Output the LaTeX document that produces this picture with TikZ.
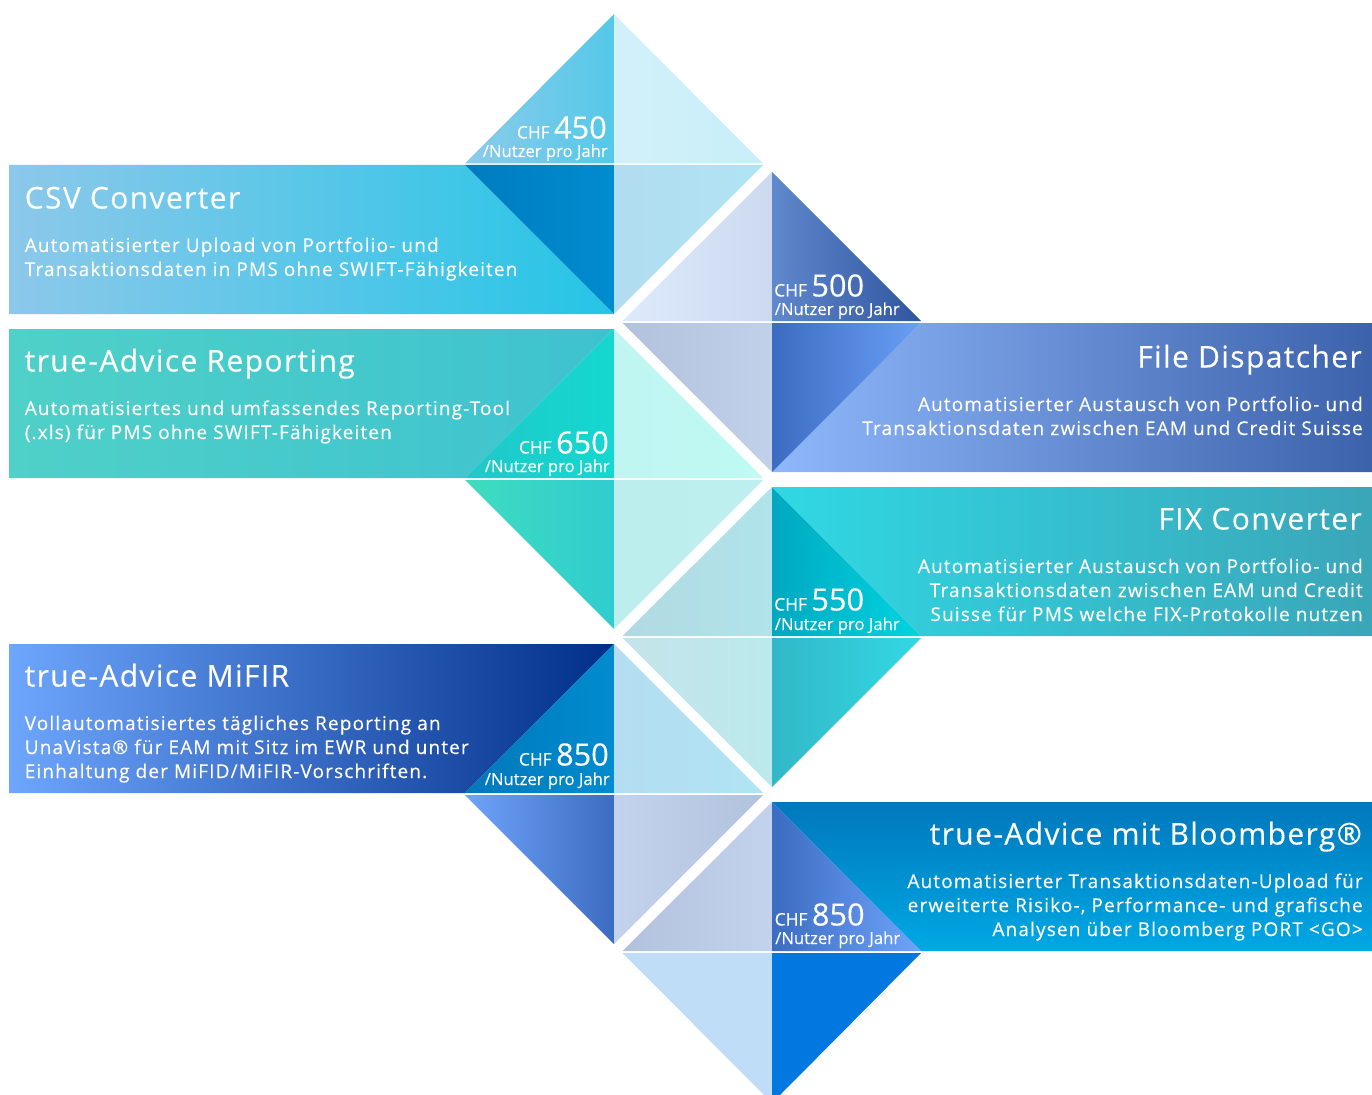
\documentclass[tikz,border=0pt]{standalone}
\usepackage{fontspec}
\setmainfont{Open Sans}
\newfontfamily\ttlfont[LetterSpace=4.6,FakeBold=0.3]{Open Sans}
\newfontfamily\bodyfont[LetterSpace=6.0,FakeBold=0.3]{Open Sans}
\newfontfamily\pricefont[FakeBold=0.3]{Open Sans}
\newcommand\gp[3]{\definecolor{gpa}{HTML}{#1}\definecolor{gpb}{HTML}{#2}\shade[left color=gpa,right color=gpb] #3 -- cycle;}
\tikzset{
  ttl/.style={text=white,inner sep=0pt,font=\ttlfont\fontsize{22.5}{27}\selectfont},
  bodyl/.style={text=white,inner sep=0pt,align=left,font=\bodyfont\fontsize{14.25}{18}\selectfont},
  bodyr/.style={text=white,inner sep=0pt,align=right,font=\bodyfont\fontsize{14.25}{18}\selectfont},
  pricel/.style={text=white,inner sep=0pt,font=\pricefont\fontsize{13}{15}\selectfont},
  unitl/.style={text=white,inner sep=0pt,font=\pricefont\fontsize{12.5}{14}\selectfont}
}
\newcommand\chf[1]{CHF {\fontsize{23}{28}\selectfont #1}}
\begin{document}
\begin{tikzpicture}[x=0.75pt,y=-0.75pt]
\useasboundingbox (0,0) rectangle (1372,1095);
% diamond 1
\gp{8ccbeb}{55c8e8}{(465,163.5) -- (614,14) -- (614,163.5)}
\gp{d2f0fa}{c8eff8}{(614,14) -- (763,163.5) -- (614,163.5)}
\gp{8cc8ea}{25c5e6}{(9,165) -- (465,165) -- (614,314) -- (9,314)}
\gp{007cc0}{008ccf}{(465,165) -- (614,165) -- (614,314)}
\gp{b2dcf1}{b0e4f3}{(614,165) -- (763,165) -- (614,314)}
% diamond 2
\gp{deeafc}{ccd9ef}{(622.5,321) -- (772,172) -- (772,321)}
\gp{6088cc}{2f559f}{(772,172) -- (921,321) -- (772,321)}
\gp{8fb8fb}{3c62ab}{(921,323) -- (1372,323) -- (1372,472) -- (772,472)}
\gp{b2c1dc}{c1d1ea}{(622.5,323) -- (772,323) -- (772,472)}
\gp{3b6cc2}{6a9ff5}{(772,323) -- (921,323) -- (772,472)}
% diamond 3
\gp{4fd0c8}{3ec2cf}{(9,329) -- (614,329) -- (465,478) -- (9,478)}
\gp{20c8c8}{14d8d0}{(465,478) -- (614,329) -- (614,478)}
\gp{c0f5f2}{bffaf4}{(614,329) -- (763,478) -- (614,478)}
\gp{3fdcc0}{30ccd0}{(465,480) -- (614,480) -- (614,629)}
\gp{bceeed}{beeff0}{(614,480) -- (763,480) -- (614,629)}
% diamond 4
\gp{b2d9e2}{b0e4ea}{(622.5,636) -- (772,487) -- (772,636)}
\gp{00a8c0}{00d4e0}{(772,487) -- (921,636) -- (772,636)}
\gp{30d8e4}{3aa6b8}{(772,487) -- (1372,487) -- (1372,636) -- (921,636)}
\gp{c4e4ea}{bbe9ec}{(622.5,638) -- (772,638) -- (772,787)}
\gp{32b8c8}{32d8e4}{(772,638) -- (921,638) -- (772,787)}
% diamond 5
\gp{6ea6fd}{002e88}{(9,644) -- (614,644) -- (465,793) -- (9,793)}
\gp{0078bc}{008ccf}{(465,793) -- (614,644) -- (614,793)}
\gp{b4ddf2}{b0e4f3}{(614,644) -- (763,793) -- (614,793)}
\gp{6fa4fa}{3c6cc2}{(465,795) -- (614,795) -- (614,944)}
\gp{c3d3ee}{b2c2dd}{(614,795) -- (763,795) -- (614,944)}
% diamond 6
\gp{b2c1dc}{c3d3ee}{(622.5,951) -- (772,802) -- (772,951)}
\gp{3b6cc2}{6fa4fa}{(772,802) -- (921,951) -- (772,951)}
\definecolor{bla}{HTML}{0078bc}\definecolor{blb}{HTML}{00a8e4}
\shade[top color=bla,bottom color=blb] (772,802) -- (1372,802) -- (1372,951) -- (921,951) -- cycle;
\gp{bfddf7}{bfddf7}{(622.5,953) -- (772,953) -- (772,1095) -- (764,1095)}
\gp{0078e0}{0078e0}{(772,953) -- (921,953) -- (780,1095) -- (772,1095)}
% titles and descriptions
\node[ttl,anchor=base west] (t1) at (24.5,208.5) {CSV Converter};
\node[bodyl,anchor=base west] (b1) at (24.5,276) {Automatisierter Upload von Portfolio- und\\Transaktionsdaten in PMS ohne SWIFT-Fähigkeiten};
\node[ttl,anchor=base west] (t3) at (24.5,371.5) {true-Advice Reporting};
\node[bodyl,anchor=base west] (b3) at (24.5,439) {Automatisiertes und umfassendes Reporting-Tool\\(.xls) für PMS ohne SWIFT-Fähigkeiten};
\node[ttl,anchor=base west] (t5) at (24.5,686.5) {true-Advice MiFIR};
\node[bodyl,anchor=base west] (b5) at (24.5,778) {Vollautomatisiertes tägliches Reporting an\\UnaVista® für EAM mit Sitz im EWR und unter\\Einhaltung der MiFID/MiFIR-Vorschriften.};
\node[ttl,anchor=base east] (t2) at (1362,367.5) {File Dispatcher};
\node[bodyr,anchor=base east] (b2) at (1363,435) {Automatisierter Austausch von Portfolio- und\\Transaktionsdaten zwischen EAM und Credit Suisse};
\node[ttl,anchor=base east] (t4) at (1362,529.5) {FIX Converter};
\node[bodyr,anchor=base east] (b4) at (1363,621) {Automatisierter Austausch von Portfolio- und\\Transaktionsdaten zwischen EAM und Credit\\Suisse für PMS welche FIX-Protokolle nutzen};
\node[ttl,anchor=base east] (t6) at (1362,844.5) {true-Advice mit Bloomberg®};
\node[bodyr,anchor=base east] (b6) at (1363,936) {Automatisierter Transaktionsdaten-Upload für\\erweiterte Risiko-, Performance- und grafische\\Analysen über Bloomberg PORT <GO>};
% prices
\node[pricel,anchor=base east] (p1) at (607,138.5) {\chf{450}};
\node[unitl,anchor=base east] (u1) at (608,157) {/Nutzer pro Jahr};
\node[pricel,anchor=base west] (p2) at (774,296.5) {\chf{500}};
\node[unitl,anchor=base west] (u2) at (774.5,315) {/Nutzer pro Jahr};
\node[pricel,anchor=base east] (p3) at (609,453.5) {\chf{650}};
\node[unitl,anchor=base east] (u3) at (610,472) {/Nutzer pro Jahr};
\node[pricel,anchor=base west] (p4) at (774,610.5) {\chf{550}};
\node[unitl,anchor=base west] (u4) at (774.5,630) {/Nutzer pro Jahr};
\node[pricel,anchor=base east] (p5) at (609,765.5) {\chf{850}};
\node[unitl,anchor=base east] (u5) at (610,785) {/Nutzer pro Jahr};
\node[pricel,anchor=base west] (p6) at (774.5,925.5) {\chf{850}};
\node[unitl,anchor=base west] (u6) at (775,944) {/Nutzer pro Jahr};
\end{tikzpicture}
\end{document}
